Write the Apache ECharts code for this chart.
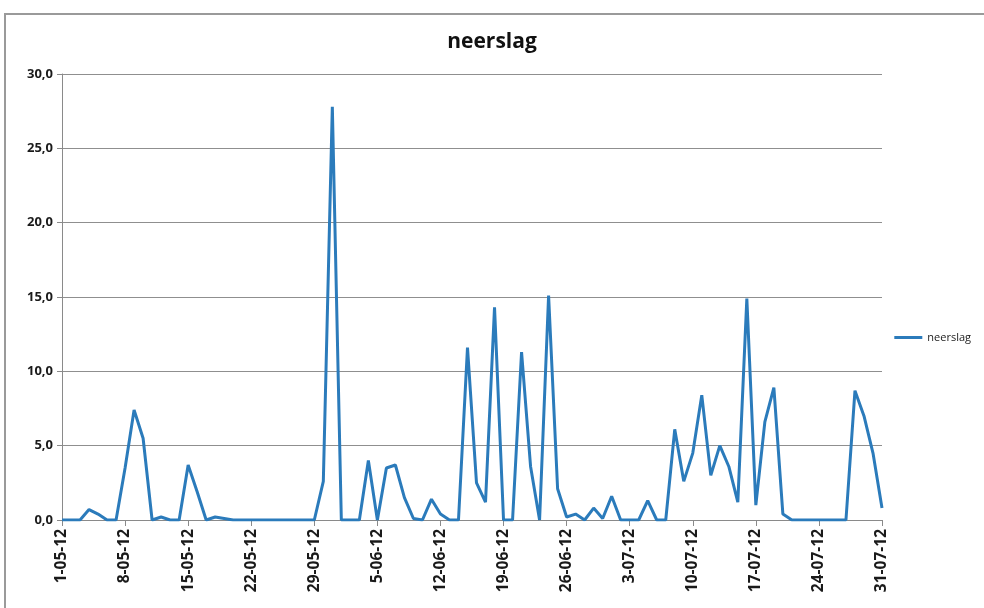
<!DOCTYPE html>
<html><head><meta charset="utf-8">
<script src="https://cdn.jsdelivr.net/npm/echarts@6/dist/echarts.min.js"></script>
<style>
html,body{margin:0;padding:0;background:#fff;overflow:hidden;}
#frame{position:absolute;left:4px;top:13px;width:1100px;height:800px;border:2px solid #9a9a9a;box-sizing:border-box;}
#c{position:absolute;left:0;top:0;width:984px;height:608px;}
</style></head>
<body>
<div id="frame"></div>
<div id="c"></div>
<script>
// Daily dates 1-05-12 .. 31-07-12
const months = [5, 6, 7];
const monthDays = [31, 30, 31];
const categories = [];
months.forEach((m, k) => { for (let d = 1; d <= monthDays[k]; d++) categories.push(d + '-' + (m < 10 ? '0' + m : m) + '-12'); });

const mayValues = [0,0,0,0.7,0.4,0,0,3.5,7.4,5.5,0,0.2,0,0,3.7,1.9,0,0.2,0.1,0,0,0,0,0,0,0,0,0,0,2.6,27.8];
const juneValues = [0,0,0,4.0,0,3.5,3.7,1.5,0.1,0,1.4,0.4,0,0,11.6,2.5,1.2,14.3,0,0,11.3,3.6,0,15.1,2.1,0.2,0.4,0,0.8,0.1];
const julyValues = [1.6,0,0,0,1.3,0,0,6.1,2.6,4.5,8.4,3.0,5.0,3.6,1.2,14.9,1.0,6.6,8.9,0.4,0,0,0,0,0,0,0,8.7,7.0,4.5,0.8];
const neerslag = mayValues.concat(juneValues, julyValues);
const yTicks = [0, 5, 10, 15, 20, 25, 30];

const chart = echarts.init(document.getElementById('c'));
chart.setOption({
  animation: false,
  title: { text: 'neerslag', left: 'center', top: 27,
    textStyle: { fontFamily: 'Open Sans', fontWeight: 'bold', fontSize: 21, color: '#111' } },
  legend: { right: 8, top: 327, orient: 'vertical', itemWidth: 28, itemHeight: 3,
    icon: 'rect', itemGap: 4,
    textStyle: { fontFamily: 'Open Sans', fontSize: 11, color: '#222' },
    data: [{ name: 'neerslag' }] },
  grid: { left: 62, right: 102, top: 74, bottom: 88, containLabel: false },
  xAxis: { type: 'category', data: categories, boundaryGap: false,
    axisLine: { lineStyle: { color: '#8a8a8a', width: 1 } },
    axisTick: { show: true, interval: 6, length: 6, lineStyle: { color: '#8a8a8a' } },
    axisLabel: { interval: 6, rotate: 90, margin: 9, fontFamily: 'Open Sans', fontWeight: 'bold', fontSize: 15.5, color: '#1a1a1a' } },
  yAxis: { type: 'value', min: yTicks[0], max: yTicks[yTicks.length - 1], interval: 5,
    axisLine: { show: true, lineStyle: { color: '#8a8a8a' } },
    axisTick: { show: true, length: 5, lineStyle: { color: '#8a8a8a' } },
    splitLine: { lineStyle: { color: '#8f8f8f', width: 1 } },
    axisLabel: { fontFamily: 'Open Sans', fontWeight: 'bold', fontSize: 13, color: '#1a1a1a', margin: 9,
      formatter: v => v.toFixed(1).replace('.', ',') } },
  series: [{ name: 'neerslag', type: 'line', data: neerslag, showSymbol: false, symbol: 'none',
    lineStyle: { color: '#2b7bbb', width: 3 }, itemStyle: { color: '#2b7bbb' } }]
});
</script>
</body></html>
